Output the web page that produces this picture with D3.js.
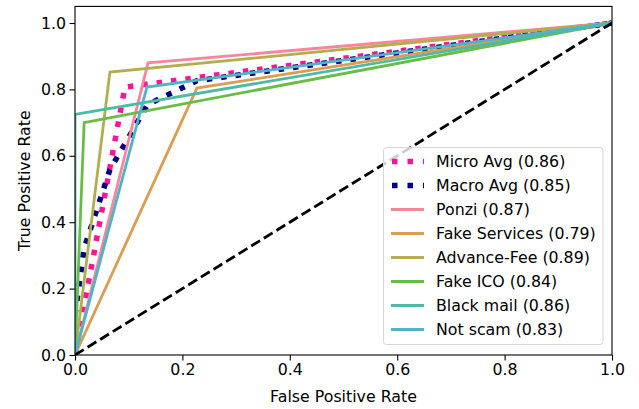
<!DOCTYPE html>
<html>
<head>
<meta charset="utf-8">
<script src="https://cdn.jsdelivr.net/npm/d3@7"></script>
<style>
  body { margin: 0; background: #fff; }
  svg { font-family: "DejaVu Sans", sans-serif; }
</style>
</head>
<body>
<div id="chart"></div>
<script>
// ROC points: [fpr, tpr]
let microPts = [[0, 0], [0.093, 0.807], [1, 1]]
let macroPts = [[0, 0.12], [0.017, 0.321], [0.065, 0.558], [0.134, 0.751], [0.136, 0.755], [0.227, 0.826], [1, 1]]

let classNames = ['Ponzi', 'Fake Services', 'Advance-Fee', 'Fake ICO', 'Black mail', 'Not scam']
let classAuc = [0.87, 0.79, 0.89, 0.84, 0.86, 0.83]
let classFpr = [0.136, 0.227, 0.065, 0.017, 0.0, 0.134]
let classTpr = [0.88, 0.804, 0.852, 0.70, 0.725, 0.807]
let classColors = ['#f7869a', '#dc9c52', '#b3ae4c', '#68bd46', '#4bbba4', '#50b4c8']

let microAuc = 0.86
let macroAuc = 0.85

let xTicks = [0, 0.2, 0.4, 0.6, 0.8, 1.0]
let yTicks = [0, 0.2, 0.4, 0.6, 0.8, 1.0]

let width = 639, height = 409
let margin = { left: 75, right: 27, top: 6.4, bottom: 54 }
let fs = 15.8

let svg = d3.select('#chart').append('svg')
  .attr('width', width)
  .attr('height', height)

let x = d3.scaleLinear().domain([0, 1]).range([margin.left, width - margin.right])
let y = d3.scaleLinear().domain([0, 1.05]).range([height - margin.bottom, margin.top])

let line = d3.line().x(function (d) { return x(d[0]) }).y(function (d) { return y(d[1]) })

// clip to plot area
svg.append('clipPath').attr('id', 'plot')
  .append('rect')
  .attr('x', x(0)).attr('y', y(1.05))
  .attr('width', x(1) - x(0)).attr('height', y(0) - y(1.05))

let plot = svg.append('g').attr('clip-path', 'url(#plot)')

plot.append('path')
  .attr('d', line(microPts))
  .attr('fill', 'none')
  .attr('stroke', 'deeppink')
  .attr('stroke-width', 5.5)
  .attr('stroke-dasharray', '5.5,9')

plot.append('path')
  .attr('d', line(macroPts))
  .attr('fill', 'none')
  .attr('stroke', 'navy')
  .attr('stroke-width', 5.5)
  .attr('stroke-dasharray', '5.5,9')

classNames.forEach(function (name, i) {
  let pts = [[0, 0], [classFpr[i], classTpr[i]], [1, 1]]
  plot.append('path')
    .attr('d', line(pts))
    .attr('fill', 'none')
    .attr('stroke', classColors[i])
    .attr('stroke-width', 2.8)
})

plot.append('path')
  .attr('d', line([[0, 0], [1, 1]]))
  .attr('fill', 'none')
  .attr('stroke', '#000')
  .attr('stroke-width', 2.8)
  .attr('stroke-dasharray', '10.3,4.5')

// axes
svg.append('g')
  .attr('transform', `translate(0,${y(0)})`)
  .call(d3.axisBottom(x).tickValues(xTicks).tickFormat(d3.format('.1f')).tickSize(5.5).tickPadding(3.5))
svg.append('g')
  .attr('transform', `translate(${x(0)},0)`)
  .call(d3.axisLeft(y).tickValues(yTicks).tickFormat(d3.format('.1f')).tickSize(5.5).tickPadding(3.5))

svg.selectAll('.domain').remove()
svg.selectAll('.tick line').attr('stroke', '#000').attr('stroke-width', 1.1)
svg.selectAll('.tick text').attr('font-size', fs).attr('fill', '#000').attr('font-family', 'DejaVu Sans')

svg.append('rect')
  .attr('x', x(0)).attr('y', y(1.05))
  .attr('width', x(1) - x(0)).attr('height', y(0) - y(1.05))
  .attr('fill', 'none')
  .attr('stroke', '#000')
  .attr('stroke-width', 1.1)

svg.append('text')
  .attr('x', (x(0) + x(1)) / 2)
  .attr('y', 402)
  .attr('text-anchor', 'middle')
  .attr('font-size', fs)
  .text('False Positive Rate')

svg.append('text')
  .attr('transform', `translate(30,${(y(0) + y(1.05)) / 2}) rotate(-90)`)
  .attr('text-anchor', 'middle')
  .attr('font-size', fs)
  .text('True Positive Rate')

// legend
let legend = svg.append('g')
legend.append('rect')
  .attr('x', 383.5).attr('y', 147.5)
  .attr('width', 219.5).attr('height', 197)
  .attr('rx', 3)
  .attr('fill', 'rgba(255,255,255,0.8)')
  .attr('stroke', '#d6d6d6')
  .attr('stroke-width', 1)

let legendItems = [
  { label: `Micro Avg (${microAuc.toFixed(2)})`, color: 'deeppink', dotted: true },
  { label: `Macro Avg (${macroAuc.toFixed(2)})`, color: 'navy', dotted: true }
]
classNames.forEach(function (name, i) {
  legendItems.push({ label: `${name} (${classAuc[i].toFixed(2)})`, color: classColors[i], dotted: false })
})

legendItems.forEach(function (d, i) {
  let cy = 161.5 + i * 24
  let h = legend.append('line')
    .attr('x1', 391).attr('x2', 424)
    .attr('y1', cy).attr('y2', cy)
    .attr('stroke', d.color)
  if (d.dotted) {
    h.attr('stroke-width', 5.5).attr('stroke-dasharray', '5.5,10').attr('x1', 392)
  } else {
    h.attr('stroke-width', 2.8)
  }
  legend.append('text')
    .attr('x', 436)
    .attr('y', cy + 5.5)
    .attr('font-size', fs)
    .text(d.label)
})
</script>
</body>
</html>
